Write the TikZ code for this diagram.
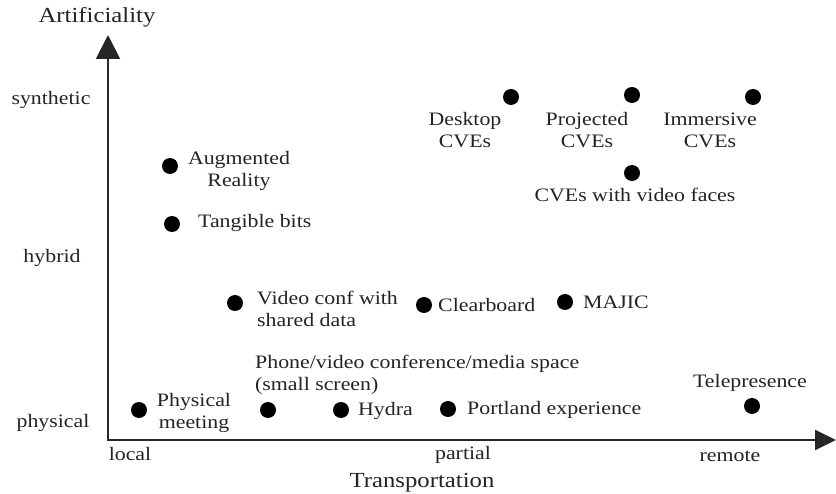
\documentclass[tikz,border=0pt]{standalone}
\usepackage{fontspec}
\setmainfont{Liberation Serif}[FakeStretch=1.15]
\usetikzlibrary{arrows.meta}
\definecolor{ink}{RGB}{35,35,35}
\begin{document}
\begin{tikzpicture}[x=1pt,y=-1pt,
  lbl/.style={inner sep=0pt,text=ink,font=\fontsize{19}{22}\selectfont},
  ttl/.style={inner sep=0pt,text=ink,font=\fontsize{21.5}{24}\selectfont},
  dot/.style={circle,fill=black,inner sep=0pt,minimum size=16pt},
  axis/.style={line width=2pt,draw=black!85}]
\useasboundingbox (0,0) rectangle (836,494);
% axes
\coordinate (O) at (108,440);
\coordinate (ytip) at (108,35);
\coordinate (xtip) at (836,440);
\draw[axis,-{Triangle[length=24pt,width=24pt]}] ([yshift=1pt]O) -- (ytip);
\draw[axis,-{Triangle[length=21pt,width=20pt]}] ([xshift=-1pt]O) -- (xtip);
% axis titles and ticks
\node[ttl] (tA) at (97,17) {Artificiality};
\node[ttl] (tT) at (422,483) {Transportation};
\node[lbl] (synth) at (51,100) {synthetic};
\node[lbl] (hyb) at (52,258) {hybrid};
\node[lbl] (phys) at (53,423) {physical};
\node[lbl] (loc) at (130,454) {local};
\node[lbl] (part) at (463,455) {partial};
\node[lbl] (rem) at (730,456) {remote};
% dots
\node[dot] (dAR) at (170,166) {};
\node[dot] (dTB) at (172,224) {};
\node[dot] (dVC) at (235,303) {};
\node[dot] (dCB) at (424,305) {};
\node[dot] (dMJ) at (565,302) {};
\node[dot] (dDC) at (511,97) {};
\node[dot] (dPC) at (632,95) {};
\node[dot] (dIC) at (753,97) {};
\node[dot] (dVF) at (632,173) {};
\node[dot] (dPM) at (139,410) {};
\node[dot] (dPh) at (268,410) {};
\node[dot] (dHy) at (341,410) {};
\node[dot] (dPo) at (448,409) {};
\node[dot] (dTe) at (752,406) {};
% labels
\node[lbl,align=center] (lAR) at (239,171) {Augmented\\Reality};
\node[lbl,anchor=west] (lTB) at (198,223) {Tangible bits};
\node[lbl,align=left,anchor=west] (lVC) at (257,309) {Video conf with\\shared data};
\node[lbl,anchor=west] (lCB) at (438,305) {Clearboard};
\node[lbl,anchor=west] (lMJ) at (583,302) {MAJIC};
\node[lbl,align=center] (lDC) at (465,130) {Desktop\\CVEs};
\node[lbl,align=center] (lPC) at (587,130) {Projected\\CVEs};
\node[lbl,align=center] (lIC) at (710,130) {Immersive\\CVEs};
\node[lbl] (lVF) at (635,195) {CVEs with video faces};
\node[lbl,align=center] (lPM) at (194,413) {Physical\\meeting};
\node[lbl,align=left,anchor=west] (lPh) at (255,375) {Phone/video conference/media space\\(small screen)};
\node[lbl,anchor=west] (lHy) at (358,411) {Hydra};
\node[lbl,anchor=west] (lPo) at (467,410) {Portland experience};
\node[lbl] (lTe) at (750,383) {Telepresence};
\end{tikzpicture}
\end{document}
